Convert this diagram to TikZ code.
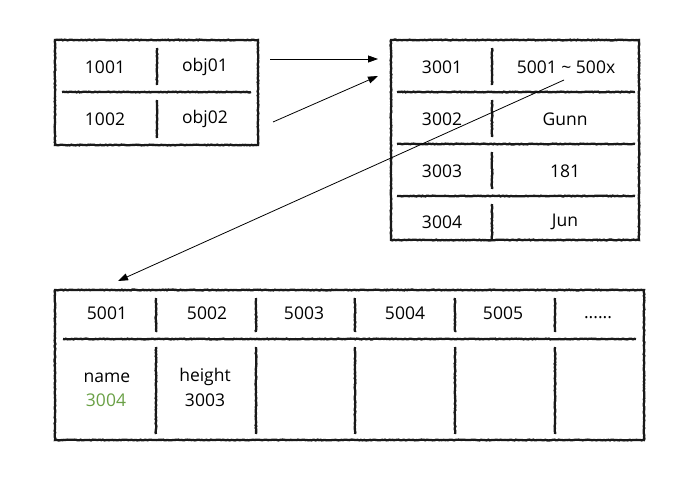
\documentclass[tikz,border=0pt]{standalone}
\usepackage{fontspec}
\setmainfont{Open Sans}
\usetikzlibrary{arrows.meta,decorations.pathmorphing}
\definecolor{grn}{RGB}{106,160,70}
\begin{document}
\begin{tikzpicture}[x=1pt,y=-1pt,
  rough/.style={line width=2.3pt,draw=black!90,decorate,decoration={random steps,segment length=1.5pt,amplitude=0.4pt}},
  lbl/.style={font=\fontsize{17.5}{20}\selectfont,inner sep=0pt,text=black},
  arr/.style={line width=0.8pt,-{Triangle[length=10pt,width=7pt]}}]
\useasboundingbox (0,0) rectangle (700,482);
% box 1
\draw[rough] (55,40) rectangle (258,145);
\draw[rough] (62,92) -- (251,92);
\draw[rough] (157,48) -- (157,85);
\draw[rough] (157,100) -- (157,138);
\node[lbl] (a1) at (105,67) {1001};
\node[lbl] (b1) at (205,67) {obj01};
\node[lbl] (a2) at (105,119) {1002};
\node[lbl] (b2) at (205,119) {obj02};
% box 2
\draw[rough] (391,40) rectangle (639,240);
\foreach \y in {92,144,196} \draw[rough] (397,\y) -- (635,\y);
\foreach \y in {48,100,152,204} \draw[rough] (492,\y) -- (492,\y+37);
\node[lbl] (c1) at (442,67) {3001};
\node[lbl] (d1) at (566,67) {5001 \textasciitilde{} 500x};
\node[lbl] (c2) at (442,119) {3002};
\node[lbl] (d2) at (565,119) {Gunn};
\node[lbl] (c3) at (442,171) {3003};
\node[lbl] (d3) at (565,171) {181};
\node[lbl] (c4) at (442,222) {3004};
\node[lbl] (d4) at (565,222) {Jun};
% box 3
\draw[rough] (55,290) rectangle (644,440);
\draw[rough] (63,339) -- (636,339);
\foreach \x in {156,256,355,455,555} {
  \draw[rough] (\x,298) -- (\x,332);
  \draw[rough] (\x,347) -- (\x,434);
}
\node[lbl] (e1) at (107,313) {5001};
\node[lbl] (e2) at (207,313) {5002};
\node[lbl] (e3) at (304,313) {5003};
\node[lbl] (e4) at (405,313) {5004};
\node[lbl] (e5) at (503,313) {5005};
\node[lbl,anchor=base] (e6) at (598,318) {......};
\node[lbl] (f1) at (107,378) {name};
\node[lbl,text=grn] (f2) at (106,400) {3004};
\node[lbl] (g1) at (205,377) {height};
\node[lbl] (g2) at (205,400) {3003};
% arrows
\coordinate (s1) at (270,59);
\coordinate (t1) at (378,59);
\coordinate (s2) at (273,122);
\coordinate (t2) at (378,76);
\coordinate (s3) at (564,80);
\coordinate (t3) at (118,281);
\draw[arr] (s1) -- (t1);
\draw[arr] (s2) -- (t2);
\draw[arr] (s3) -- (t3);
\end{tikzpicture}
\end{document}
